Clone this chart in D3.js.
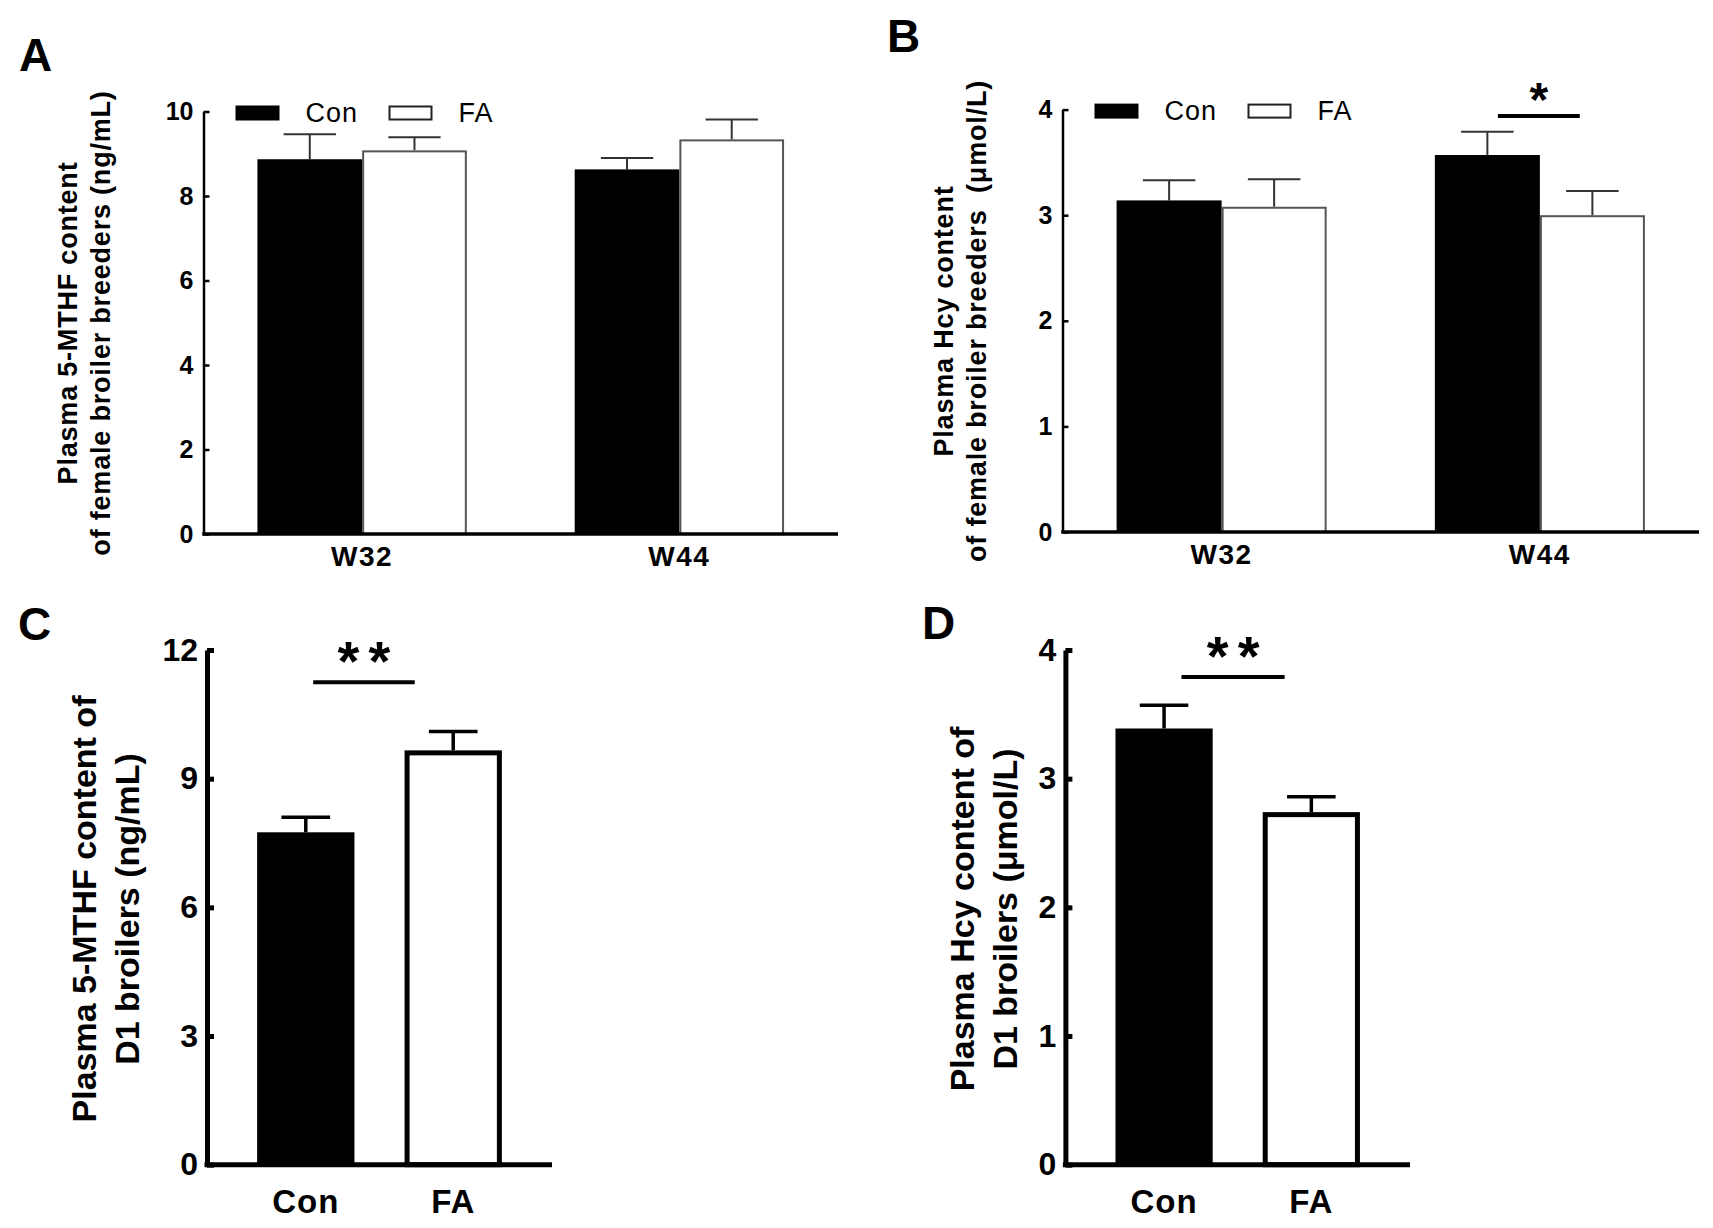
<!DOCTYPE html>
<html>
<head>
<meta charset="utf-8">
<script src="https://cdn.jsdelivr.net/npm/d3@7"></script>
<style>
  body { margin: 0; background: #fff; }
  svg { display: block; }
</style>
</head>
<body>
<div id="container"></div>
<script>
// ---- data ----
var weeks = ["W32", "W44"];
var treatments = ["Con", "FA"];

// A: plasma 5-MTHF of breeders (ng/mL)
var mthfBreedCon = [8.87, 8.63];
var mthfBreedFA = [9.08, 9.34];
var mthfBreedConSem = [0.59, 0.27];
var mthfBreedFASem = [0.31, 0.47];
var ticksA = [0, 2, 4, 6, 8, 10];

// B: plasma Hcy of breeders (umol/L)
var hcyBreedCon = [3.14, 3.57];
var hcyBreedFA = [3.08, 3.00];
var hcyBreedConSem = [0.19, 0.22];
var hcyBreedFASem = [0.26, 0.23];
var ticksB = [0, 1, 2, 3, 4];
var sigB = { group: "W44", value: 3.94, label: "*" };

// C: plasma 5-MTHF of D1 broilers (ng/mL)
var mthfBroiler = [7.75, 9.66];
var mthfBroilerSem = [0.35, 0.44];
var ticksC = [0, 3, 6, 9, 12];
var sigC = { value: 11.25, label: "**" };

// D: plasma Hcy of D1 broilers (umol/L)
var hcyBroiler = [3.39, 2.74];
var hcyBroilerSem = [0.18, 0.12];
var ticksD = [0, 1, 2, 3, 4];
var sigD = { value: 3.79, label: "**" };

var FONT = '"Liberation Sans", Arial, Helvetica, sans-serif';

var svg = d3.select('#container').append('svg')
  .attr('width', 1713).attr('height', 1228)
  .attr('font-family', FONT);

var styleAB = { axisW: 2.5, xAxisW: 3.5, tick: 6, pad: 10, tickFs: 25, xFs: 28, xPad: 12, xLs: 1.5,
  errW: 2, errColor: '#333', faStroke: '#555', faStrokeW: 2, titleFs: 27, titleLs: 0.8, sigW: 4 };
var styleCD = { axisW: 5, xAxisW: 5, tick: 7, pad: 9, tickFs: 32, xFs: 33, xPad: 25, xLs: 1,
  errW: 3.5, errColor: '#000', faStroke: '#000', faStrokeW: 5, titleFs: 34, titleLs: 0, sigW: 4 };

function panelLetter(txt, x, y) {
  svg.append('text').attr('x', x).attr('y', y).text(txt)
    .attr('font-size', 46).attr('font-weight', 'bold');
}

function yTitle(lines, xs, cy, st) {
  lines.forEach(function(l, i) {
    svg.append('text')
      .attr('transform', 'translate(' + xs[i] + ',' + cy + ') rotate(-90)')
      .attr('text-anchor', 'middle')
      .attr('font-size', st.titleFs).attr('font-weight', 'bold')
      .attr('letter-spacing', st.titleLs)
      .style('white-space', 'pre')
      .text(l);
  });
}

function drawAxes(g, x, y, ticks, st) {
  var left = x.range()[0];
  var ya = g.append('g').attr('transform', 'translate(' + left + ',0)')
    .call(d3.axisLeft(y).tickValues(ticks)
      .tickSizeInner(-st.tick).tickSizeOuter(0).tickPadding(st.pad).tickFormat(d3.format('d')));
  ya.attr('font-family', FONT);
  ya.select('.domain').attr('stroke', '#000').attr('stroke-width', st.axisW);
  ya.selectAll('.tick line').attr('stroke', '#000').attr('stroke-width', st.axisW);
  ya.selectAll('.tick text').attr('font-size', st.tickFs).attr('font-weight', 'bold').attr('fill', '#000');

  var xa = g.append('g').attr('transform', 'translate(0,' + y.range()[0] + ')')
    .call(d3.axisBottom(x).tickSize(0).tickPadding(st.xPad));
  xa.attr('font-family', FONT);
  xa.select('.domain').attr('stroke', '#000').attr('stroke-width', st.xAxisW)
    .attr('d', 'M' + (left - st.axisW / 2) + ',0H' + x.range()[1]);
  xa.selectAll('.tick text').attr('font-size', st.xFs).attr('font-weight', 'bold')
    .attr('fill', '#000').attr('letter-spacing', st.xLs);
}

function bar(g, x, w, y0, y1, isFA, st) {
  if (!isFA) {
    g.append('rect').attr('x', x).attr('y', y1).attr('width', w).attr('height', y0 - y1).attr('fill', '#000');
  } else {
    var h = st.faStrokeW / 2;
    g.append('rect').attr('x', x + h).attr('y', y1 + h).attr('width', w - 2 * h).attr('height', y0 - y1 - h)
      .attr('fill', '#fff').attr('stroke', st.faStroke).attr('stroke-width', st.faStrokeW);
  }
}

function errBar(g, cx, w, yMean, yTop, st) {
  g.append('line').attr('x1', cx).attr('x2', cx).attr('y1', yMean).attr('y2', yTop)
    .attr('stroke', st.errColor).attr('stroke-width', st.errW);
  g.append('line').attr('x1', cx - w / 4).attr('x2', cx + w / 4).attr('y1', yTop).attr('y2', yTop)
    .attr('stroke', st.errColor).attr('stroke-width', st.errW);
}

function stars(g, label, cx, cy, fs, gap) {
  var n = label.length;
  for (var i = 0; i < n; i++) {
    g.append('text').attr('x', cx + (i - (n - 1) / 2) * gap).attr('y', cy + 0.553 * fs)
      .attr('text-anchor', 'middle').attr('font-size', fs).attr('font-weight', 'bold').text('*');
  }
}

// ---- grouped panels (A, B) ----
function grouped(p) {
  var st = styleAB;
  var g = svg.append('g');
  var x0 = d3.scaleBand().domain(weeks).range([p.left, p.right]).paddingInner(0.34).paddingOuter(0.17);
  var x1 = d3.scaleBand().domain(treatments).range([0, x0.bandwidth()]);
  var y = d3.scaleLinear().domain([0, p.ticks[p.ticks.length - 1]]).range([p.bottom, p.top]);
  var series = { Con: [p.con, p.conSem], FA: [p.fa, p.faSem] };

  weeks.forEach(function(wk, i) {
    treatments.forEach(function(t) {
      var v = series[t][0][i], s = series[t][1][i];
      var bx = x0(wk) + x1(t), bw = x1.bandwidth();
      errBar(g, bx + bw / 2, bw, y(v), y(v + s), st);
      bar(g, bx, bw, y(0), y(v), t === 'FA', st);
    });
  });

  drawAxes(g, x0, y, p.ticks, st);

  // legend
  treatments.forEach(function(t, i) {
    var lx = p.left + 32 + i * 153;
    if (t === 'FA') {
      g.append('rect').attr('x', lx + 1).attr('y', p.top - 5).attr('width', 42).attr('height', 13)
        .attr('fill', '#fff').attr('stroke', '#222').attr('stroke-width', 2);
    } else {
      g.append('rect').attr('x', lx).attr('y', p.top - 6).attr('width', 44).attr('height', 15).attr('fill', '#000');
    }
    g.append('text').attr('x', lx + 70).attr('y', p.top + 10.5).attr('font-size', 27)
      .attr('letter-spacing', 1).text(t);
  });

  if (p.sig) {
    var gx = x0(p.sig.group), gw = x0.bandwidth();
    var sx1 = gx + 0.30 * gw, sx2 = gx + 0.69 * gw, sy = y(p.sig.value);
    g.append('line').attr('x1', sx1).attr('x2', sx2).attr('y1', sy).attr('y2', sy)
      .attr('stroke', '#000').attr('stroke-width', st.sigW);
    stars(g, p.sig.label, (sx1 + sx2) / 2, sy - 26, 48, 30);
  }
}

// ---- two-bar panels (C, D) ----
function simple(p) {
  var st = styleCD;
  var g = svg.append('g');
  var x = d3.scaleBand().domain(treatments).range([p.left, p.right]).paddingInner(0.34).paddingOuter(0.34);
  var y = d3.scaleLinear().domain([0, p.ticks[p.ticks.length - 1]]).range([p.bottom, p.top]);
  var bw = x.bandwidth();

  treatments.forEach(function(t, i) {
    var v = p.values[i], s = p.sem[i];
    errBar(g, x(t) + bw / 2, bw, y(v), y(v + s), st);
    bar(g, x(t), bw, y(0), y(v), t === 'FA', st);
  });

  drawAxes(g, x, y, p.ticks, st);

  var span0 = x('Con'), span = x('FA') + bw - x('Con');
  var sx1 = span0 + p.sigFrac[0] * span, sx2 = span0 + p.sigFrac[1] * span, sy = y(p.sig.value);
  g.append('line').attr('x1', sx1).attr('x2', sx2).attr('y1', sy).attr('y2', sy)
    .attr('stroke', '#000').attr('stroke-width', st.sigW);
  stars(g, p.sig.label, (sx1 + sx2) / 2, sy - 33, 56, 31);
}

panelLetter('A', 19, 71);
grouped({ left: 203.5, right: 838, top: 111.5, bottom: 534, ticks: ticksA,
  con: mthfBreedCon, fa: mthfBreedFA, conSem: mthfBreedConSem, faSem: mthfBreedFASem });
yTitle(['Plasma 5-MTHF content', 'of female broiler breeders (ng/mL)'], [77, 110], 323, styleAB);

panelLetter('B', 887, 52);
grouped({ left: 1062.5, right: 1699, top: 109.6, bottom: 532, ticks: ticksB,
  con: hcyBreedCon, fa: hcyBreedFA, conSem: hcyBreedConSem, faSem: hcyBreedFASem, sig: sigB });
yTitle(['Plasma Hcy content', 'of female broiler breeders  (\u03bcmol/L)'], [953, 986], 321, styleAB);

panelLetter('C', 18, 640);
simple({ left: 207, right: 552, top: 650, bottom: 1164.7, ticks: ticksC,
  values: mthfBroiler, sem: mthfBroilerSem, sig: sigC, sigFrac: [0.229, 0.644] });
yTitle(['Plasma 5-MTHF content of', 'D1 broilers (ng/mL)'], [96, 139], 909, styleCD);

panelLetter('D', 922, 639);
simple({ left: 1065.4, right: 1410, top: 650, bottom: 1164.7, ticks: ticksD,
  values: hcyBroiler, sem: hcyBroilerSem, sig: sigD, sigFrac: [0.27, 0.692] });
yTitle(['Plasma Hcy content of', 'D1 broilers (\u03bcmol/L)'], [974, 1017], 909, styleCD);
</script>
</body>
</html>
